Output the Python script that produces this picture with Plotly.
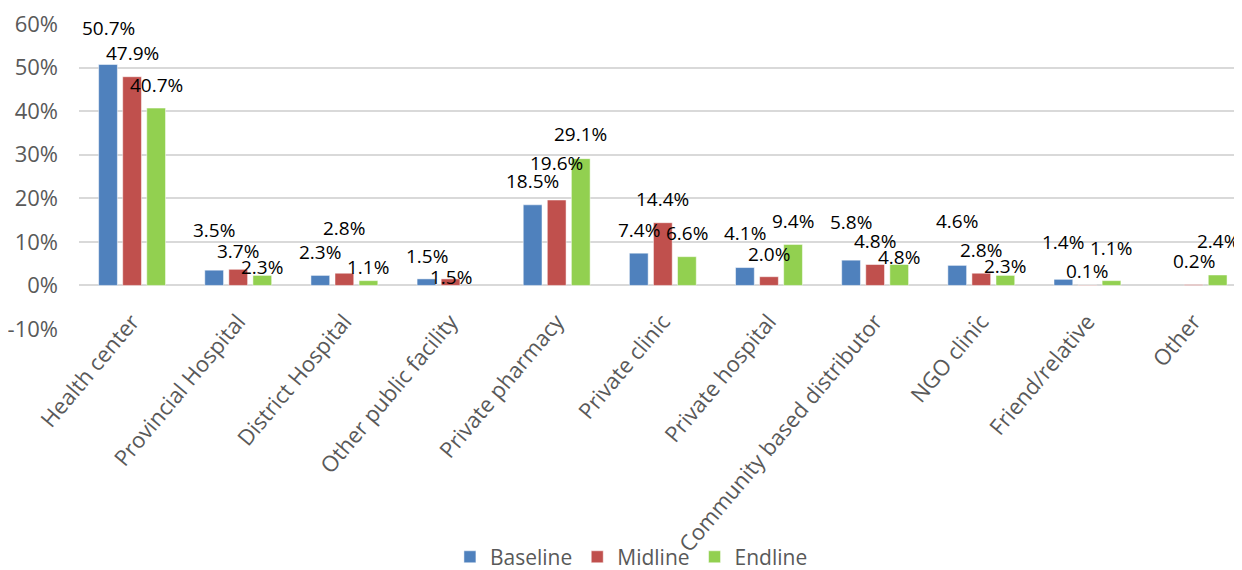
import plotly.graph_objects as go

categories = ["Health center", "Provincial Hospital", "District Hospital", "Other public facility",
              "Private pharmacy", "Private clinic", "Private hospital", "Community based distributor",
              "NGO clinic", "Friend/relative", "Other"]
series_names = ["Baseline", "Midline", "Endline"]
baseline = [50.7, 3.5, 2.3, 1.5, 18.5, 7.4, 4.1, 5.8, 4.6, 1.4, None]
midline = [47.9, 3.7, 2.8, 1.5, 19.6, 14.4, 2.0, 4.8, 2.8, 0.1, 0.2]
endline = [40.7, 2.3, 1.1, None, 29.1, 6.6, 9.4, 4.8, 2.3, 1.1, 2.4]

y_tick_values = [-0.1, 0.0, 0.1, 0.2, 0.3, 0.4, 0.5, 0.6]
y_tick_labels = ["-10%", "0%", "10%", "20%", "30%", "40%", "50%", "60%"]

# heights (in %) where the data labels were placed in the original chart
label_y_baseline = [59.1, 12.7, 7.7, 6.7, 24.0, 12.7, 12.0, 14.6, 14.8, 9.9, None]
label_y_midline = [53.4, 7.9, 13.2, 1.9, 28.1, 19.8, 7.2, 10.2, 8.1, 3.3, 5.6]
label_y_endline = [46.0, 4.2, 4.2, None, 34.8, 12.0, 14.8, 6.5, 4.4, 8.6, 10.2]

colors = ["#4F81BD", "#C0504D", "#92D050"]
values = [baseline, midline, endline]
label_ys = [label_y_baseline, label_y_midline, label_y_endline]

FONT = "Open Sans"
GRAY = "#595959"

fig = go.Figure()
for name, vals, col in zip(series_names, values, colors):
    fig.add_trace(go.Bar(
        name=name, x=categories, y=[None if v is None else v / 100 for v in vals],
        marker=dict(color=col, line=dict(color="white", width=0.5)),
    ))

annotations = []
shifts = [-24, 0, 24]
for vals, ly, sh in zip(values, label_ys, shifts):
    for c, v, y in zip(categories, vals, ly):
        if v is None or y is None:
            continue
        annotations.append(dict(
            x=c, y=y / 100, xref="x", yref="y", text=f"{v:.1f}%", showarrow=False,
            xshift=sh, xanchor="center", yanchor="middle",
            font=dict(family=FONT, size=19, color="black"),
        ))

# the page body adds an 8px margin, so the figure is 8px smaller than the window
fig.update_layout(
    width=1234, height=562,
    margin=dict(l=71, r=0, t=16, b=241, autoexpand=False),
    paper_bgcolor="white", plot_bgcolor="white",
    barmode="group", bargap=0.32, bargroupgap=0.22,
    font=dict(family=FONT, color=GRAY),
    annotations=annotations,
    showlegend=True,
    legend=dict(orientation="h", x=0.475, xanchor="center", y=-0.748, yanchor="middle",
                bgcolor="rgba(0,0,0,0)",
                font=dict(family=FONT, size=21, color=GRAY), itemclick=False),
    yaxis=dict(range=[-0.1, 0.6], tickmode="array", tickvals=y_tick_values, ticktext=y_tick_labels,
               showgrid=True, gridcolor="#D9D9D9", gridwidth=1.5, zeroline=False, showline=False,
               ticks="", ticklabelstandoff=20, automargin=False, ticklabeloverflow="allow",
               tickfont=dict(family=FONT, size=22, color=GRAY)),
    xaxis=dict(range=[-0.5, 10.456], anchor="free", position=0.1429, showgrid=False,
               showline=False, zeroline=False, ticks="", tickangle=-50,
               ticklabelstandoff=18, automargin=False, ticklabeloverflow="allow",
               tickfont=dict(family=FONT, size=22, color=GRAY)),
)

fig.write_html("out.html")
